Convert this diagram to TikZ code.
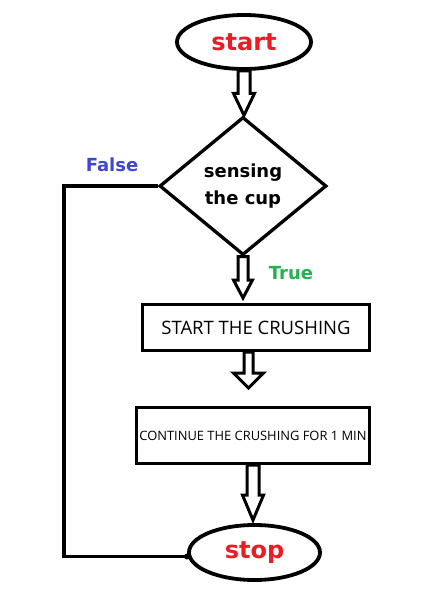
\documentclass[tikz,border=0pt]{standalone}
\usepackage{fontspec}
\setmainfont{DejaVu Sans}
\newfontfamily\boxfont{Open Sans}
\usetikzlibrary{shapes.geometric,calc}
\definecolor{pred}{RGB}{237,28,36}
\definecolor{pblue}{RGB}{63,72,204}
\definecolor{pgreen}{RGB}{34,177,76}
\newcommand\blockarrow[5]{\draw[barrow] let \p1=(#1), \p2=(#2) in
  (\x1-#3,\y1) -- (\x1-#3,\y2+#5) -- (\x1-#4,\y2+#5) -- (\x1,\y2) --
  (\x1+#4,\y2+#5) -- (\x1+#3,\y2+#5) -- (\x1+#3,\y1) -- cycle;}
\begin{document}
\begin{tikzpicture}[x=1pt,y=-1pt,
  term/.style={ellipse,draw,line width=3.8pt,inner sep=0pt,text=pred,
    font=\bfseries\fontsize{24}{28}\selectfont},
  decide/.style={diamond,draw,line width=3.3pt,inner sep=0pt,align=center,
    font=\bfseries\fontsize{18}{27}\selectfont},
  procbox/.style={rectangle,draw,line width=3pt,inner sep=0pt},
  barrow/.style={draw,line width=3pt,fill=white,line join=miter},
  flow/.style={line width=3.8pt},
  lbl/.style={font=\bfseries\fontsize{18}{22}\selectfont}]
\useasboundingbox (0,0) rectangle (425,598);
\node[term,minimum width=134pt,minimum height=54pt] (start) at (244,42) {start};
\node[decide,minimum width=167pt,minimum height=138pt] (dia) at (243,186) {sensing\\the cup};
\node[procbox,minimum width=227pt,minimum height=46pt,
  font=\boxfont\fontsize{18.5}{22}\selectfont] (box1) at (256,327.5) {START THE CRUSHING};
\node[procbox,minimum width=233pt,minimum height=56pt,
  font=\boxfont\fontsize{12.9}{16}\selectfont] (box2) at (253,435.5) {CONTINUE THE CRUSHING FOR 1 MIN};
\node[term,minimum width=131pt,minimum height=55pt] (stop) at (254.5,552.5) {stop};
\node[lbl,text=pblue] (false) at (112,165) {False};
\node[lbl,text=pgreen] (true) at (291,273) {True};
\blockarrow{start.south}{dia.north}{6pt}{10.5pt}{22pt}
\blockarrow{dia.south}{[yshift=5pt]box1.north}{5pt}{9.5pt}{18pt}
\blockarrow{[xshift=-7.5pt]box1.south}{[yshift=18pt]box2.north}{4.5pt}{15pt}{15pt}
\blockarrow{box2.south}{[yshift=3pt]stop.north}{6pt}{10.5pt}{25pt}
\coordinate (jn) at ([yshift=-4pt]stop.west);
\draw[flow,line join=miter] (dia.west) -- ++(-94,0) |- (jn);
\fill (jn) circle (3pt);
\end{tikzpicture}
\end{document}
